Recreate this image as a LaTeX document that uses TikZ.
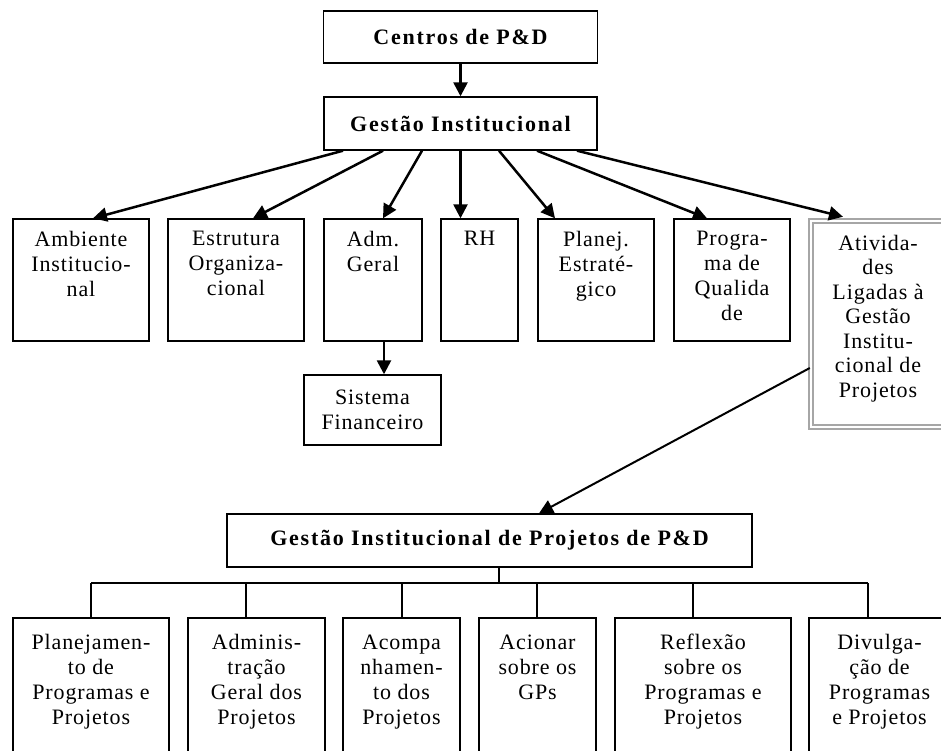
\documentclass[tikz,border=0pt]{standalone}
\usepackage{fontspec}
\setmainfont{Liberation Serif}[LetterSpace=4, BoldFeatures={LetterSpace=8}]
\usetikzlibrary{arrows.meta,calc}
\begin{document}
\begin{tikzpicture}[x=1pt,y=-1pt,
  box/.style={draw, line width=1.4pt, inner sep=0pt},
  ttl/.style={box, font=\fontsize{22}{25}\selectfont\bfseries},
  txt/.style={inner sep=0pt, align=center, font=\fontsize{22}{25}\selectfont},
  arr/.style={line width=2.5pt, -{Triangle[length=14pt,width=14pt]}},
  tree/.style={line width=1.1pt}]
\useasboundingbox (0,0) rectangle (941,751);

% top
\node[ttl, minimum width=274pt, minimum height=52pt] (c1) at (460.5,37) {Centros de P\&D};
\node[ttl, minimum width=273pt, minimum height=53pt] (g1) at (460.5,123.5) {Gestão Institucional};

% middle row
\node[box, minimum width=136pt, minimum height=122pt,
  label={[txt,anchor=north,yshift=-13pt]north:Ambiente\\Institucio-\\nal}] (amb) at (81,280) {};
\node[box, minimum width=136pt, minimum height=122pt,
  label={[txt,anchor=north,yshift=-13pt]north:Estrutura\\Organiza-\\cional}] (est) at (236,280) {};
\node[box, minimum width=98pt, minimum height=122pt,
  label={[txt,anchor=north,yshift=-13pt]north:Adm.\\Geral}] (adm) at (373,280) {};
\node[box, minimum width=77pt, minimum height=122pt,
  label={[txt,anchor=north,yshift=-13pt]north:RH}] (rh) at (479.5,280) {};
\node[box, minimum width=116pt, minimum height=122pt,
  label={[txt,anchor=north,yshift=-13pt]north:Planej.\\Estraté-\\gico}] (plan) at (596,280) {};
\node[box, minimum width=116pt, minimum height=122pt,
  label={[txt,anchor=north,yshift=-13pt]north:Progra-\\ma de\\Qualida\\de}] (prog) at (732,280) {};
\node[draw=gray!70, line width=2.4pt, double=white, double distance=1.6pt, inner sep=0pt,
  minimum width=134pt, minimum height=206pt,
  label={[txt,font=\fontsize{22}{24.5}\selectfont,anchor=north,yshift=-15pt]north:Ativida-\\des\\Ligadas à\\Gestão\\Institu-\\cional de\\Projetos}] (ativ) at (878,324) {};

\node[box, minimum width=137pt, minimum height=70pt, txt] (sf) at (372.5,410) {Sistema\\Financeiro};

% bottom
\node[ttl, minimum width=525pt, minimum height=53pt] (gp) at (489.5,540.5) {Gestão Institucional de Projetos de P\&D};

\node[box, minimum width=156pt, minimum height=162pt,
  label={[txt,anchor=north,yshift=-17pt]north:Planejamen-\\to de\\Programas e\\Projetos}] (b1) at (91,699) {};
\node[box, minimum width=137pt, minimum height=162pt,
  label={[txt,anchor=north,yshift=-17pt]north:Adminis-\\tração\\Geral dos\\Projetos}] (b2) at (256.5,699) {};
\node[box, minimum width=117pt, minimum height=162pt,
  label={[txt,anchor=north,yshift=-17pt]north:Acompa\\nhamen-\\to dos\\Projetos}] (b3) at (401.5,699) {};
\node[box, minimum width=117pt, minimum height=162pt,
  label={[txt,anchor=north,yshift=-17pt]north:Acionar\\sobre os\\GPs}] (b4) at (537.5,699) {};
\node[box, minimum width=176pt, minimum height=162pt,
  label={[txt,anchor=north,yshift=-17pt]north:Reflexão\\sobre os\\Programas e\\Projetos}] (b5) at (703,699) {};
\node[box, minimum width=141pt, minimum height=162pt,
  label={[txt,anchor=north,yshift=-17pt]north:Divulga-\\ção de\\Programas\\e Projetos}] (b6) at (879.5,699) {};

% arrows
\draw[arr] (c1.south) -- (g1.north);
\draw[arr] (343,0 |- g1.south) -- (93,0 |- amb.north);
\draw[arr] (383,0 |- g1.south) -- (253,0 |- est.north);
\draw[arr] (422,0 |- g1.south) -- (383,0 |- adm.north);
\draw[arr] (460.5,0 |- g1.south) -- (460.5,0 |- rh.north);
\draw[arr] (499,0 |- g1.south) -- (555,0 |- plan.north);
\draw[arr] (537,0 |- g1.south) -- (707,0 |- prog.north);
\draw[arr] (577,0 |- g1.south) -- ($(843,0 |- ativ.north)+(0,-3)$);
\draw[arr] (384,0 |- adm.south) -- (384,0 |- sf.north);
\draw[arr, line width=2pt] (ativ.west |- 0,368) -- (539,0 |- gp.north);

% tree
\coordinate (bar) at (499,583);
\draw[tree] (499,0 |- gp.south) -- (bar);
\draw[tree] (91,583) -- (868,583);
\foreach \x/\b in {91/b1,246/b2,402/b3,537/b4,693/b5,868/b6}
  \draw[tree] (\x,583) -- (\x,0 |- \b.north);
\end{tikzpicture}
\end{document}
